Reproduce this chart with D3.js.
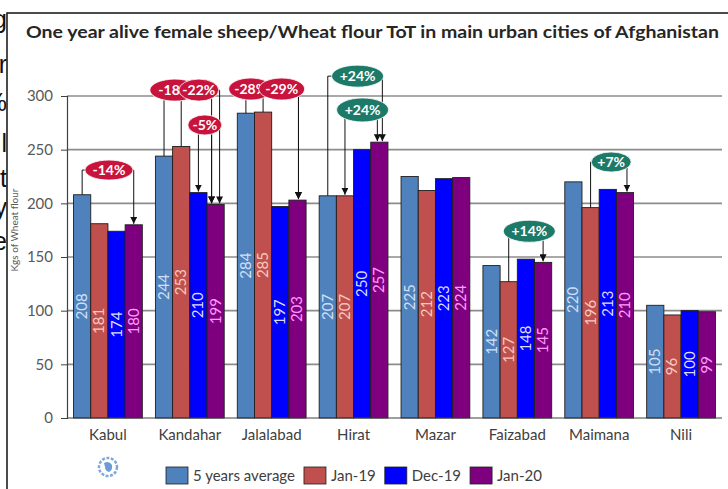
<!DOCTYPE html>
<html>
<head>
<meta charset="utf-8">
<script src="https://cdn.jsdelivr.net/npm/d3@7"></script>
<style>
  body { margin: 0; background: #fff; }
  svg { display: block; font-family: Lato, "Open Sans", sans-serif; }
</style>
</head>
<body>
<svg id="chart" width="728" height="489"></svg>
<script>
// data
const cities = ['Kabul', 'Kandahar', 'Jalalabad', 'Hirat', 'Mazar', 'Faizabad', 'Maimana', 'Nili'];
const seriesNames = ['5 years average', 'Jan-19', 'Dec-19', 'Jan-20'];
const avg5 = [208, 244, 284, 207, 225, 142, 220, 105];
const jan19 = [181, 253, 285, 207, 212, 127, 196, 96];
const dec19 = [174, 210, 197, 250, 223, 148, 213, 100];
const jan20 = [180, 199, 203, 257, 224, 145, 210, 99];
const tickValues = [0, 50, 100, 150, 200, 250, 300];

// change callouts: from / to are series indexes
const callouts = [
  { city: 'Kabul', text: '-14%', from: 0, to: 3, tone: 'neg' },
  { city: 'Kandahar', text: '-18%', from: 0, to: 3, tone: 'neg' },
  { city: 'Kandahar', text: '-22%', from: 1, to: 3, tone: 'neg' },
  { city: 'Kandahar', text: '-5%', from: 2, to: 3, tone: 'neg' },
  { city: 'Jalalabad', text: '-28%', from: 0, to: 3, tone: 'neg' },
  { city: 'Jalalabad', text: '-29%', from: 1, to: 3, tone: 'neg' },
  { city: 'Hirat', text: '+24%', from: 0, to: 3, tone: 'pos' },
  { city: 'Hirat', text: '+24%', from: 1, to: 3, tone: 'pos' },
  { city: 'Faizabad', text: '+14%', from: 1, to: 3, tone: 'pos' },
  { city: 'Maimana', text: '+7%', from: 1, to: 3, tone: 'pos' }
];
// where each bubble sits (level in chart units, offsets in px)
const calloutLayout = [
  { level: 231, dx: 1, rx: 24, ry: 10, toDx: 0, arrowFrom: false },
  { level: 305.5, dx: -15, rx: 25, ry: 11, toDx: 4, arrowFrom: false },
  { level: 305.5, dx: 9, rx: 20, ry: 11, toDx: -4, arrowFrom: false },
  { level: 273, dx: 15, rx: 17, ry: 10, toDx: -4, arrowFrom: true },
  { level: 306.5, dx: -21, rx: 22, ry: 11, toDx: 1, arrowFrom: false },
  { level: 306.5, dx: 10, rx: 23, ry: 11, toDx: 1, arrowFrom: false },
  { level: 318.5, dx: 4, rx: 26, ry: 11, toDx: 3, arrowFrom: false },
  { level: 287, dx: 9, rx: 26, ry: 12, toDx: -2, arrowFrom: true },
  { level: 174, dx: 12, rx: 26, ry: 11, toDx: 0, arrowFrom: false },
  { level: 238.5, dx: 12, rx: 20, ry: 10, toDx: 2, arrowFrom: false }
];

const series = [avg5, jan19, dec19, jan20];
const barColors = ['#4f81bd', '#c0504d', '#0000ff', '#7f007f'];
const labelColors = ['#cfe0f6', '#f6c9bf', '#dcdcff', '#ff9cff'];
const toneColors = { neg: '#c8143c', pos: '#1d7a68' };

const svg = d3.select('#chart');

// page frame + cut-off text from the neighbouring column
const clip = svg.append('defs').append('clipPath').attr('id', 'leftcut');
clip.append('rect').attr('x', 0).attr('y', 0).attr('width', 6.5).attr('height', 489);
const fragments = [['g', 28], ['r', 73], ['%', 111], ['l', 152], ['t', 187], ['y', 216], ['e', 250]];
svg.append('g').attr('clip-path', 'url(#leftcut)')
  .selectAll('text').data(fragments).join('text')
  .attr('x', 7).attr('y', d => d[1])
  .attr('text-anchor', 'end')
  .style('font-family', '"Liberation Sans", Arial, sans-serif')
  .style('font-size', '25px')
  .attr('fill', '#111')
  .text(d => d[0]);

svg.append('path')
  .attr('d', 'M7,489 V13 H728')
  .attr('fill', 'none')
  .attr('stroke', '#111')
  .attr('stroke-width', 1.5);

// title
svg.append('text')
  .attr('x', 26).attr('y', 38)
  .attr('textLength', 693)
  .attr('lengthAdjust', 'spacingAndGlyphs')
  .style('font-size', '17.5px')
  .style('font-weight', 'bold')
  .attr('fill', '#262626')
  .text('One year alive female sheep/Wheat flour ToT in main urban cities of Afghanistan');

const left = 67, right = 722;
const y = d3.scaleLinear().domain([0, 300]).range([418, 96]);
const x0 = d3.scaleBand().domain(cities).range([left, right]).paddingInner(0.16).paddingOuter(0.08);
const x1 = d3.scaleBand().domain(d3.range(series.length)).range([0, x0.bandwidth()]);

// gridlines
svg.append('g')
  .selectAll('line').data(tickValues.filter(t => t > 0)).join('line')
  .attr('x1', left).attr('x2', right)
  .attr('y1', d => y(d)).attr('y2', d => y(d))
  .attr('stroke', '#8c8c8c')
  .attr('stroke-width', 1.6);

// y axis
const yAxis = svg.append('g')
  .attr('transform', `translate(${left},0)`)
  .call(d3.axisLeft(y).tickValues(tickValues).tickSize(6).tickPadding(8));
yAxis.select('.domain').attr('stroke', '#404040').attr('stroke-width', 1.2);
yAxis.selectAll('.tick line').attr('stroke', '#404040');
yAxis.selectAll('text')
  .style('font-family', 'Lato, sans-serif')
  .style('font-size', '15px')
  .attr('fill', '#595959');

svg.append('text')
  .attr('transform', 'translate(18,230) rotate(-90)')
  .attr('text-anchor', 'middle')
  .style('font-size', '10px')
  .attr('fill', '#595959')
  .text('Kgs of Wheat flour');

// bars
const groups = svg.append('g')
  .selectAll('g').data(cities).join('g')
  .attr('transform', d => `translate(${x0(d)},0)`);

groups.selectAll('rect')
  .data((c, i) => series.map((s, k) => ({ k, v: s[i] })))
  .join('rect')
  .attr('x', d => x1(d.k))
  .attr('y', d => y(d.v))
  .attr('width', x1.bandwidth())
  .attr('height', d => y(0) - y(d.v))
  .attr('fill', d => barColors[d.k])
  .attr('stroke', '#1e1e1e')
  .attr('stroke-width', 0.9);

groups.selectAll('text.val')
  .data((c, i) => series.map((s, k) => ({ k, v: s[i] })))
  .join('text')
  .attr('class', 'val')
  .attr('transform', d => `translate(${x1(d.k) + x1.bandwidth() / 2 + 5},${y(d.v / 2)}) rotate(-90)`)
  .attr('text-anchor', 'middle')
  .style('font-size', '15px')
  .attr('fill', d => labelColors[d.k])
  .text(d => d.v);

// x axis
const xAxis = svg.append('g')
  .attr('transform', `translate(0,${y(0)})`)
  .call(d3.axisBottom(x0).tickSize(0).tickPadding(11));
xAxis.select('.domain').attr('stroke', '#404040').attr('stroke-width', 1.2)
  .attr('d', `M${left},0H${right}`);
xAxis.selectAll('text')
  .style('font-family', 'Lato, sans-serif')
  .style('font-size', '15px')
  .attr('fill', '#404040');

// callouts
svg.select('defs').append('marker')
  .attr('id', 'arrow')
  .attr('markerUnits', 'userSpaceOnUse')
  .attr('viewBox', '0 0 8 8')
  .attr('refX', 8).attr('refY', 4)
  .attr('markerWidth', 7).attr('markerHeight', 7)
  .attr('orient', 'auto')
  .append('path').attr('d', 'M0,0 L8,4 L0,8 Z').attr('fill', '#111');

const barCenter = (city, k) => x0(city) + x1(k) + x1.bandwidth() / 2;
const barTop = (city, k) => y(series[k][cities.indexOf(city)]);

const items = callouts.map((c, i) => Object.assign({}, c, calloutLayout[i]));
const lines = svg.append('g').attr('fill', 'none').attr('stroke', '#111').attr('stroke-width', 1);
items.forEach(c => {
  const cy = y(c.level);
  const fx = barCenter(c.city, c.from);
  const tx = barCenter(c.city, c.to) + c.toDx;
  lines.append('path')
    .attr('d', `M${fx},${cy} V${barTop(c.city, c.from) - (c.arrowFrom ? 1 : 0)}`)
    .attr('marker-end', c.arrowFrom ? 'url(#arrow)' : null);
  lines.append('path')
    .attr('d', `M${fx},${cy} H${tx} V${barTop(c.city, c.to) - 1}`)
    .attr('marker-end', 'url(#arrow)');
});

const bubbles = svg.append('g').selectAll('g').data(items).join('g')
  .attr('transform', d => `translate(${x0(d.city) + x0.bandwidth() / 2 + d.dx},${y(d.level)})`);
bubbles.append('ellipse')
  .attr('rx', d => d.rx).attr('ry', d => d.ry)
  .attr('fill', d => toneColors[d.tone])
  .attr('stroke', '#ffffff').attr('stroke-width', 0.8);
bubbles.append('text')
  .attr('text-anchor', 'middle')
  .attr('dy', '0.36em')
  .style('font-size', '14px')
  .style('font-weight', 'bold')
  .attr('fill', '#fff')
  .text(d => d.text);

// logo (simplified)
const logo = svg.append('g').attr('transform', 'translate(108,467)');
logo.append('circle').attr('r', 9).attr('fill', 'none')
  .attr('stroke', '#7fa8da').attr('stroke-width', 2.5).attr('stroke-dasharray', '3 1.5');
logo.append('path')
  .attr('d', 'M-4,-4 Q1,-7 4,-2 Q5,3 1,5 Q-3,4 -3,0 Z')
  .attr('fill', '#6d9bd6');

// legend
const legend = svg.append('g').attr('transform', 'translate(166,467)');
let lx = 0;
seriesNames.forEach((name, k) => {
  const item = legend.append('g').attr('transform', `translate(${lx},0)`);
  item.append('rect')
    .attr('width', 22).attr('height', 17)
    .attr('fill', barColors[k])
    .attr('stroke', '#1e1e1e').attr('stroke-width', 0.8);
  const t = item.append('text')
    .attr('x', 27).attr('y', 14)
    .style('font-size', '15px')
    .attr('fill', '#404040')
    .text(name);
  lx += 27 + t.node().getComputedTextLength() + 9;
});
</script>
</body>
</html>
